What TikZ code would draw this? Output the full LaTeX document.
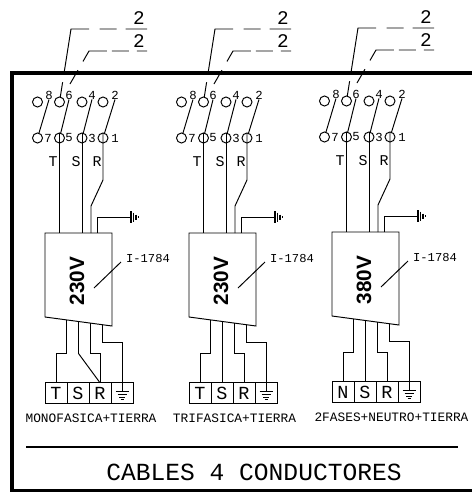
\documentclass[tikz,border=0pt]{standalone}
\usepackage{fontspec}
\setmainfont{Liberation Sans}
\setmonofont{Liberation Mono}

\tikzset{
  thin wire/.style={line width=0.55pt},
  pincir/.style={circle,draw,thin wire,minimum size=0.2cm,inner sep=0pt,outer sep=0pt},
  pinlab/.style={inner sep=0pt,font=\fontsize{7}{8}\ttfamily},
  wirelab/.style={inner sep=0pt,font=\fontsize{8.5}{9}\ttfamily},
  termbox/.style={draw,thin wire,minimum width=0.44cm,minimum height=0.41cm,inner sep=0pt,outer sep=0pt,font=\fontsize{10.5}{11}\ttfamily},
  caption/.style={inner sep=0pt,font=\fontsize{7.3}{8}\ttfamily},
  bignum/.style={inner sep=0pt,font=\fontsize{11}{12}\ttfamily}
}

% one switch + converter + terminal strip: prefix, shift, voltage, first terminal
\newcommand{\cablepanel}[5]{
\begin{scope}[shift={(#2,#3)},name prefix=#1-]
\node[pincir] (c8) at (37.5,102) {};
\node[pincir] (c6) at (59.5,102) {};
\node[pincir] (c4) at (82,102) {};
\node[pincir] (c2) at (103,102) {};
\node[pincir] (c7) at (37.5,138) {};
\node[pincir] (c5) at (59.5,138) {};
\node[pincir] (c3) at (82,138) {};
\node[pincir] (c1) at (103,138) {};

\node[pinlab] (l8) at (49,95) {8};
\node[pinlab] (l6) at (69,95) {6};
\node[pinlab] (l4) at (92,95) {4};
\node[pinlab] (l2) at (115,95) {2};
\node[pinlab] (l7) at (48,138) {7};
\node[pinlab] (l5) at (69,138) {5};
\node[pinlab] (l3) at (92,138) {3};
\node[pinlab] (l1) at (115,138) {1};

\draw[thin wire] (c7) -- (l8.south);
\draw[thin wire] (c5) -- (l6.south);
\draw[thin wire] (c3) -- (l4.south);
\draw[thin wire] (c1) -- (l2.south);

% dashed leaders to the two cables
\coordinate (d1) at (71,29);
\coordinate (e1) at (147,29);
\coordinate (d2) at (70,84);
\coordinate (d3) at (89,51);
\coordinate (e2) at (147,51);
\draw[thin wire,dash pattern=on 0.3cm off 0.2cm on 1.24cm off 0.21cm on 0.34cm off 0.18cm on 1cm] (c6) -- (d1) -- (e1);
\draw[thin wire,dash pattern=on 0.32cm off 0.2cm on 0.6cm off 0.1cm on 0.34cm off 0.16cm on 1cm] (d2) -- (d3) -- (e2);
\node[bignum] (n1) at (139,18) {2};
\node[bignum] (n2) at (139,41) {2};

\node[wirelab] (lt) at (53,162) {T};
\node[wirelab] (ls) at (76,162) {S};
\node[wirelab] (lr) at (97,162) {R};

% converter
\coordinate (tl) at (45,233);
\coordinate (tr) at (112,233);
\coordinate (br) at (112,326);
\coordinate (bl) at (45,317);
\draw[thin wire] (tl) -- (tr) -- (br) -- (bl) -- cycle;
\node[inner sep=0pt,rotate=90,font=\fontsize{11.8}{12}\bfseries] (volt) at (77,281) {#4};
\node[inner sep=0pt,font=\fontsize{6.9}{8}\ttfamily] (ref) at (148,259) {I-1784};
\coordinate (r1) at (94,288);
\coordinate (r2) at (121,262);
\draw[thin wire] (r1) -- (r2);

\draw[thin wire] (c5.north) -- (c5.north |- tl);
\draw[thin wire] (c3.north) -- (c3.north |- tl);
\draw[thin wire] (c1.north) -- (103,180) -- (91,206) -- (91,233);

% earth on top
\coordinate (g1) at (131,217);
\draw[thin wire] (97.5,233) |- (g1);
\draw[line width=0.8pt] (131,211) -- (131,223);
\draw[line width=0.8pt] (133.5,212.5) -- (133.5,221.5);
\draw[line width=0.8pt] (136,214.5) -- (136,219.5);
\draw[thin wire] (138.5,216) -- (138.5,218);

% terminals
\node[termbox] (t1) at (56,393) {#5};
\node[termbox] (t2) at (78,393) {S};
\node[termbox] (t3) at (100,393) {R};
\node[termbox] (t4) at (122,393) {};
\draw[thin wire] (t4.north) -- (122,391);
\draw[thin wire] (115.5,391) -- (128.5,391);
\draw[thin wire] (117.5,394) -- (126.5,394);
\draw[thin wire] (119,397) -- (125,397);
\draw[thin wire] (120.5,399.5) -- (123.5,399.5);

\coordinate (w1) at (66.5,320);
\coordinate (w2) at (78.5,321.5);
\coordinate (w3) at (90,323);
\coordinate (w4) at (102,324.7);
\coordinate (lo) at (0,353.5);
\coordinate (hi) at (0,342.5);
\draw[thin wire] (w1) -- (w1 |- lo) -| (t1.north);
\draw[thin wire] (w3) -- (w3 |- lo) -| (t3.north);
\draw[thin wire] (w4) -- (w4 |- hi) -| (t4.north);
\end{scope}
}

\begin{document}
\begin{tikzpicture}[x=0.02cm,y=-0.02cm]
\useasboundingbox (0,0) rectangle (472,494);

% frame, open on the right
\draw[line width=2.2pt] (472,73) -- (12.3,73) -- (12.3,490.5) -- (472,490.5);

\cablepanel{a}{0}{0}{230V}{T}
\cablepanel{b}{144}{0}{230V}{T}
\cablepanel{c}{287}{-1}{380V}{N}

% the S wire differs from panel to panel
\draw[thin wire] (a-w2) -- (a-w2 |- a-lo) -- (a-t3.north);
\draw[thin wire] (b-w2) -- (b-w2 |- b-t2.north);
\draw[thin wire] (c-w2) -- (c-w2 |- c-t2.north);

\node[caption] (capa) at (91,418) {MONOFASICA+TIERRA};
\node[caption] (capb) at (234.5,418) {TRIFASICA+TIERRA};
\node[caption] (capc) at (391.5,417) {2FASES+NEUTRO+TIERRA};

\draw[line width=0.9pt] (26,447) -- (458,447);
\node[inner sep=0pt,font=\fontsize{14}{15}\ttfamily] (title) at (254,472) {CABLES 4 CONDUCTORES};
\end{tikzpicture}
\end{document}
